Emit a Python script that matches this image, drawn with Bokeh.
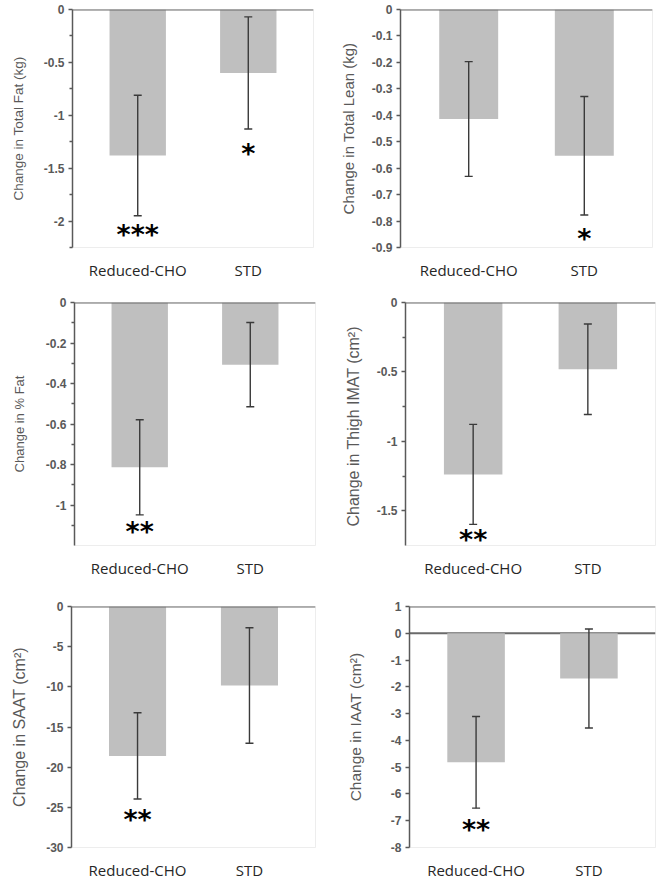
from bokeh.plotting import figure
from bokeh.models import FactorRange, Range1d, FixedTicker, Whisker, ColumnDataSource, Span, TeeHead
from bokeh.layouts import column, row
from bokeh.embed import file_html
from bokeh.resources import INLINE
from bokeh.core.properties import value

# ---------------- data ----------------
groups = ["Reduced-CHO", "STD"]

fat_mean = [-1.38, -0.60]
fat_se = [0.57, 0.53]
fat_sig = ["***", "*"]
fat_ticks = [0, -0.5, -1, -1.5, -2]
fat_tick_labels = ["0", "-0.5", "-1", "-1.5", "-2"]
fat_minor = [-0.25, -0.75, -1.25, -1.75, -2.25]

lean_mean = [-0.414, -0.553]
lean_se = [0.217, 0.224]
lean_sig = ["", "*"]
lean_ticks = [0, -0.1, -0.2, -0.3, -0.4, -0.5, -0.6, -0.7, -0.8, -0.9]
lean_tick_labels = ["0", "-0.1", "-0.2", "-0.3", "-0.4", "-0.5", "-0.6", "-0.7", "-0.8", "-0.9"]
lean_minor = []

pfat_mean = [-0.814, -0.307]
pfat_se = [0.235, 0.208]
pfat_sig = ["**", ""]
pfat_ticks = [0, -0.2, -0.4, -0.6, -0.8, -1.0]
pfat_tick_labels = ["0", "-0.2", "-0.4", "-0.6", "-0.8", "-1"]
pfat_minor = [-0.1, -0.3, -0.5, -0.7, -0.9, -1.1]

imat_mean = [-1.238, -0.481]
imat_se = [0.36, 0.326]
imat_sig = ["**", ""]
imat_ticks = [0, -0.5, -1, -1.5]
imat_tick_labels = ["0", "-0.5", "-1", "-1.5"]
imat_minor = [-0.25, -0.75, -1.25]

saat_mean = [-18.6, -9.83]
saat_se = [5.37, 7.19]
saat_sig = ["**", ""]
saat_ticks = [0, -5, -10, -15, -20, -25, -30]
saat_tick_labels = ["0", "-5", "-10", "-15", "-20", "-25", "-30"]
saat_minor = []

iaat_mean = [-4.82, -1.69]
iaat_se = [1.71, 1.85]
iaat_sig = ["**", ""]
iaat_ticks = [1, 0, -1, -2, -3, -4, -5, -6, -7, -8]
iaat_tick_labels = ["1", "0", "-1", "-2", "-3", "-4", "-5", "-6", "-7", "-8"]
iaat_minor = []

# ---------------- styling / layout ----------------
AXIS_C = "#595959"
BAR_C = "#bfbfbf"
ERR_C = "#3a3a3a"


def panel(mean, se, sig, ticks, tick_labels, minor, y_start, y_end, ylabel, label_size,
          width, height, bl, br, bt, bb, title_standoff, star_offs, zero_line=False):
    lower = [m - s for m, s in zip(mean, se)]
    upper = [m + s for m, s in zip(mean, se)]
    src = ColumnDataSource(dict(x=groups, top=mean, lower=lower, upper=upper, sig=sig, off=star_offs))
    p = figure(x_range=FactorRange(*groups, range_padding=0.09, range_padding_units="absolute"),
               y_range=Range1d(y_start, y_end),
               width=width, height=height, output_backend="svg", toolbar_location=None,
               min_border_left=bl, min_border_right=br, min_border_top=bt, min_border_bottom=bb)
    p.outline_line_color = "#ededed"
    p.xgrid.grid_line_color = None
    p.ygrid.grid_line_color = None
    p.background_fill_color = "white"
    p.border_fill_color = "white"

    if zero_line:
        p.add_layout(Span(location=0, dimension="width", line_color="#6a6a6a",
                          line_width=2, level="underlay"))

    p.vbar(x="x", top="top", bottom=0, width=0.51, source=src, fill_color=BAR_C, line_color=None)

    w = Whisker(base="x", upper="upper", lower="lower", source=src, line_color=ERR_C, line_width=1.4,
                upper_head=TeeHead(size=8, line_color=ERR_C, line_width=1.4),
                lower_head=TeeHead(size=8, line_color=ERR_C, line_width=1.4),
                level="overlay")
    p.add_layout(w)

    p.text(x="x", y="lower", text="sig", source=src, y_offset="off",
           text_font=value("DejaVu Sans"), text_font_style="bold", text_font_size="27px",
           text_align="center", text_baseline="middle", text_color="black")

    p.add_layout(Span(location=y_end, dimension="width", line_color="#6a6a6a", line_width=2))

    ya = p.yaxis[0]
    ya.ticker = FixedTicker(ticks=ticks, minor_ticks=minor)
    ya.major_label_overrides = {t: l for t, l in zip(ticks, tick_labels)}
    ya.axis_line_color = AXIS_C
    ya.axis_line_width = 1.5
    ya.major_tick_line_color = AXIS_C
    ya.major_tick_line_width = 1.3
    ya.major_tick_out = 4
    ya.major_tick_in = 0
    ya.minor_tick_line_color = AXIS_C
    ya.minor_tick_line_width = 1.3
    ya.minor_tick_out = 3
    ya.minor_tick_in = 0
    ya.major_label_standoff = 4
    ya.major_label_text_font = "Liberation Sans"
    ya.major_label_text_font_style = "bold"
    ya.major_label_text_font_size = "12px"
    ya.major_label_text_color = AXIS_C
    ya.axis_label = ylabel
    ya.axis_label_text_font = "Liberation Sans"
    ya.axis_label_text_font_style = "normal"
    ya.axis_label_text_font_size = label_size
    ya.axis_label_text_color = AXIS_C
    ya.axis_label_standoff = title_standoff

    xa = p.xaxis[0]
    xa.axis_line_color = None
    xa.major_tick_line_color = None
    xa.minor_tick_line_color = None
    xa.major_tick_out = 0
    xa.major_tick_in = 0
    xa.major_label_standoff = 12
    xa.major_label_text_font = "Open Sans"
    xa.major_label_text_font_size = "15px"
    xa.major_label_text_color = "#262626"
    return p


p1 = panel(fat_mean, fat_se, fat_sig, fat_ticks, fat_tick_labels, fat_minor, -2.25, 0,
           "Change in Total Fat (kg)", "13.5px", 332, 290, 72, 19, 9, 42, 15, [19, 24])
p2 = panel(lean_mean, lean_se, lean_sig, lean_ticks, lean_tick_labels, lean_minor, -0.9, 0,
           "Change in Total Lean (kg)", "15px", 332, 290, 68, 12, 9, 43, 12, [24, 24])
p3 = panel(pfat_mean, pfat_se, pfat_sig, pfat_ticks, pfat_tick_labels, pfat_minor, -1.2, 0,
           "Change in % Fat", "13px", 332, 300, 74, 17, 10, 45, 16, [17, 17])
p4 = panel(imat_mean, imat_se, imat_sig, imat_ticks, imat_tick_labels, imat_minor, -1.75, 0,
           "Change in  Thigh IMAT (cm²)", "16px", 332, 300, 73, 9, 12, 45, 12, [15, 15])
p5 = panel(saat_mean, saat_se, saat_sig, saat_ticks, saat_tick_labels, saat_minor, -30, 0,
           "Change in SAAT (cm²)", "16px", 332, 293, 71, 17, 16, 36, 15, [20, 20])
p6 = panel(iaat_mean, iaat_se, iaat_sig, iaat_ticks, iaat_tick_labels, iaat_minor, -8, 1,
           "Change in IAAT (cm²)", "15.5px", 332, 293, 77, 9, 15, 36, 24, [21, 21], zero_line=True)

layout = column(row(p1, p2, spacing=0), row(p3, p4, spacing=0), row(p5, p6, spacing=0), spacing=0)

open("out.html", "w").write(file_html(layout, INLINE))
